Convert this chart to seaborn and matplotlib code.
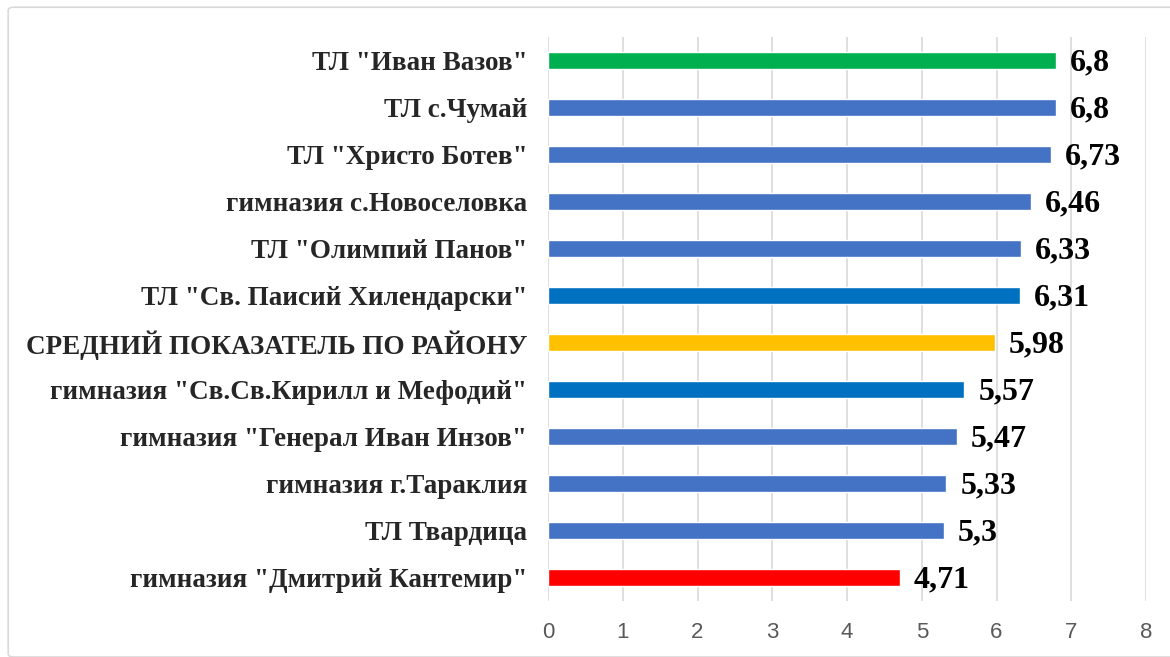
import pandas as pd
import seaborn as sns
import matplotlib.pyplot as plt
from matplotlib.patches import FancyBboxPatch

# Data (top to bottom)
schools = ['ТЛ "Иван Вазов"', 'ТЛ с.Чумай', 'ТЛ "Христо Ботев"', 'гимназия с.Новоселовка',
           'ТЛ "Олимпий Панов"', 'ТЛ "Св. Паисий Хилендарски"', 'СРЕДНИЙ ПОКАЗАТЕЛЬ ПО РАЙОНУ',
           'гимназия "Св.Св.Кирилл и Мефодий"', 'гимназия "Генерал Иван Инзов"',
           'гимназия г.Тараклия', 'ТЛ Твардица', 'гимназия "Дмитрий Кантемир"']
scores = [6.8, 6.8, 6.73, 6.46, 6.33, 6.31, 5.98, 5.57, 5.47, 5.33, 5.3, 4.71]
score_labels = ['6,8', '6,8', '6,73', '6,46', '6,33', '6,31', '5,98', '5,57', '5,47', '5,33', '5,3', '4,71']
bar_colors = ['#00B050', '#4472C4', '#4472C4', '#4472C4', '#4472C4', '#0070C0',
              '#FFC000', '#0070C0', '#4472C4', '#4472C4', '#4472C4', '#FF0000']

df = pd.DataFrame({'school': schools, 'score': scores})

sns.set_style('white')
plt.rcParams['font.family'] = ['Liberation Serif', 'DejaVu Serif']

fig = plt.figure(figsize=(11.7, 6.57), dpi=100)
ax = fig.add_axes([0.4684, 0.0852, 0.5111, 0.8584])

sns.barplot(data=df, x='score', y='school', hue='school', palette=bar_colors,
            orient='h', width=0.37, saturation=1, legend=False, ax=ax)

ax.set_xlim(0, 8)
ax.set_ylim(11.5, -0.5)
ax.set_xticks(range(9))
ax.grid(axis='x', color='#D9D9D9', linewidth=1.2)
ax.set_axisbelow(True)
for s in ax.spines.values():
    s.set_visible(False)
ax.set_xlabel('')
ax.set_ylabel('')
ax.tick_params(axis='x', length=0, pad=15, labelsize=16, labelcolor='#595959')
ax.tick_params(axis='y', length=0, pad=15)
for t in ax.get_xticklabels():
    t.set_family(['Liberation Sans Narrow', 'Liberation Sans', 'DejaVu Sans'])
for t in ax.get_yticklabels():
    t.set_fontsize(19.5)
    t.set_fontweight('bold')

for i, (v, lab) in enumerate(zip(scores, score_labels)):
    ax.annotate(lab, xy=(v, i), xytext=(10, -2), textcoords='offset points',
                ha='left', va='center', fontsize=23, fontweight='bold', color='black')

# light chart border
fig.patches.append(FancyBboxPatch((0.007, 0.0), 1.2, 0.989, boxstyle='round,pad=0,rounding_size=0.005',
                                  transform=fig.transFigure, fill=False, edgecolor='#D9D9D9',
                                  linewidth=1.2, figure=fig))

fig.savefig('out.png', dpi=100)
